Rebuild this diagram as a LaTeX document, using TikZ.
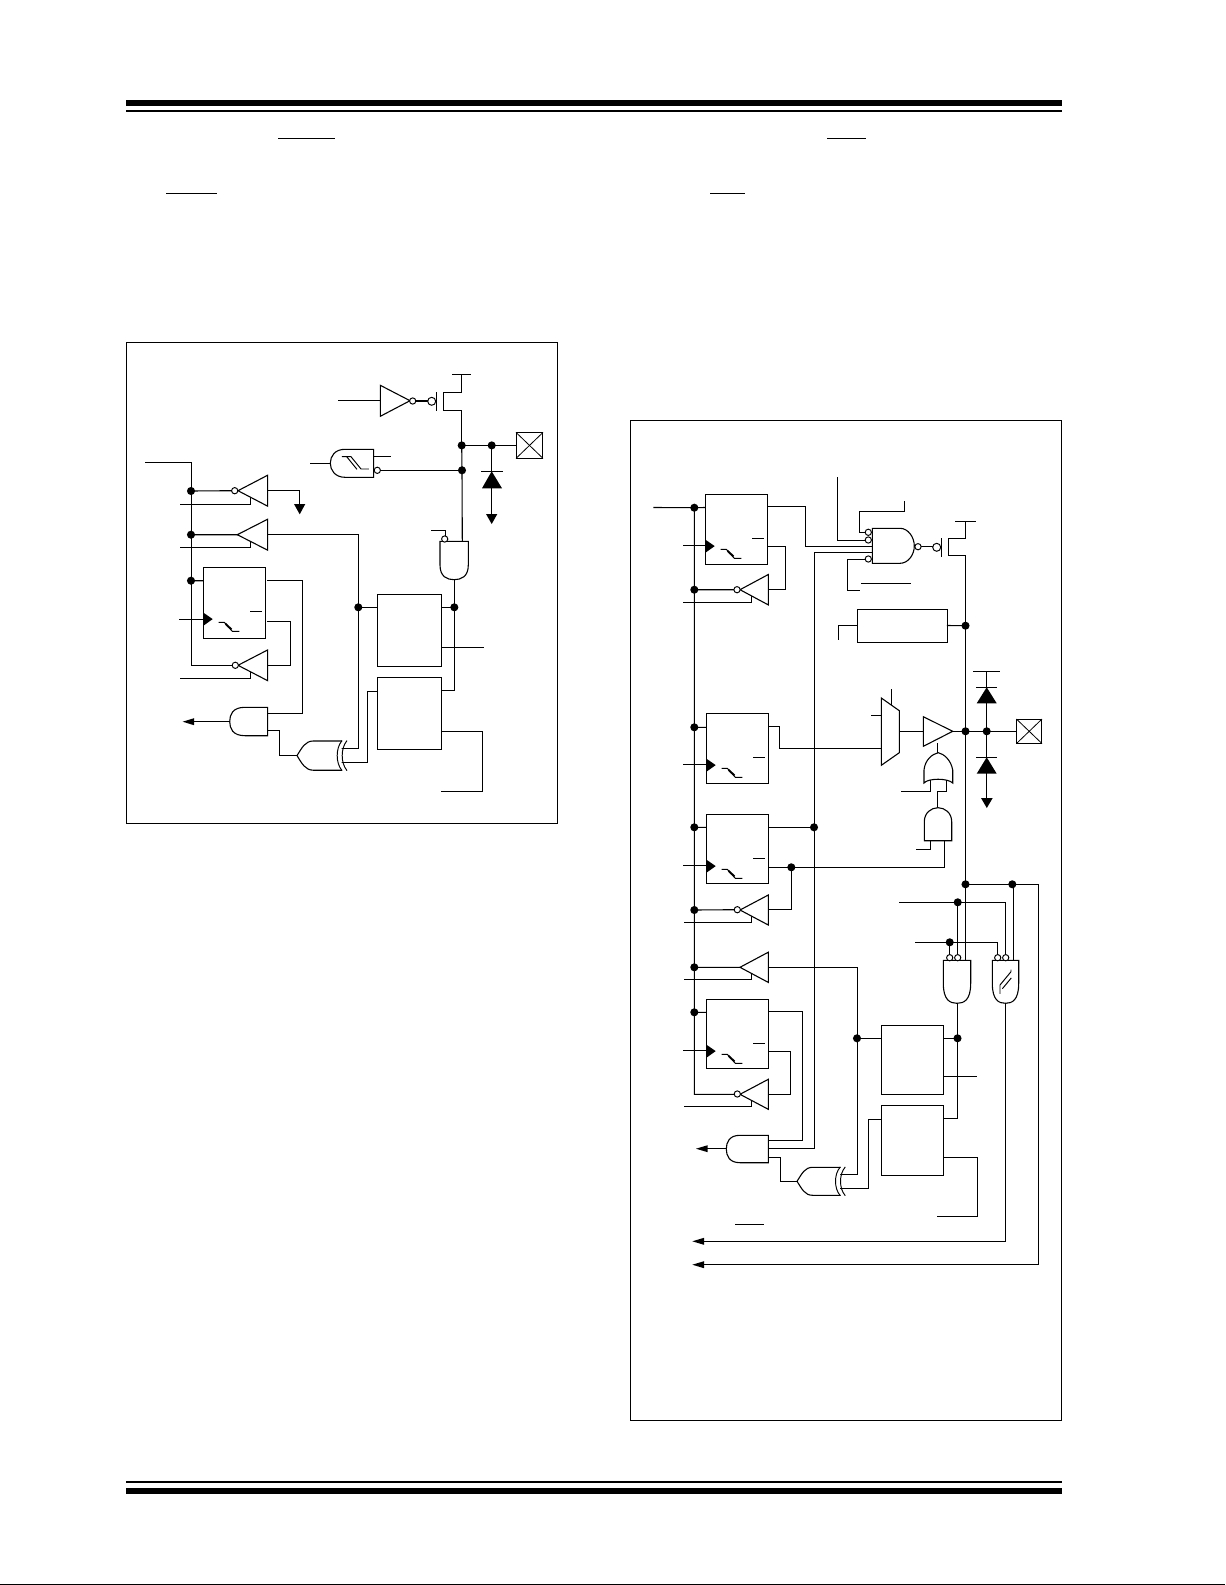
\documentclass[tikz,border=0pt]{standalone}
\usetikzlibrary{calc}
\tikzset{
  x=0.02cm,y=-0.02cm,
  wire/.style={line width=0.62pt,line cap=rect,line join=miter},
  frameline/.style={line width=0.68pt},
  gatebody/.style={line width=0.62pt,fill=white},
  dot/.style={circle,fill=black,draw=none,inner sep=0pt,outer sep=0pt,minimum size=0.162cm},
  bub/.style={circle,draw=black,fill=white,line width=0.55pt,inner sep=0pt,outer sep=0pt,minimum size=0.125cm},
  bubg/.style={circle,draw=black,fill=white,line width=0.55pt,inner sep=0pt,outer sep=0pt,minimum size=0.16cm},
  boxn/.style={rectangle,draw=black,line width=0.62pt,inner sep=0pt,outer sep=0pt,fill=white},
}
% flip-flop: #1 name, #2 top-left x, #3 top y, #4 bottom y
\newcommand{\myff}[4]{%
  \node[boxn,anchor=north west,minimum width=1.24cm,minimum height={(#4-#3)*0.02cm}] (#1) at (#2,#3) {};
  \fill (#2,#3+45.3) -- (#2+9.4,#3+51.8) -- (#2,#3+58.5) -- cycle;
  \draw[line width=0.55pt] (#2+47,#3+44.3) -- (#2+58,#3+44.3);
  \draw[line width=0.55pt] (#2+15.7,#3+55) -- (#2+21,#3+55) -- (#2+29,#3+64) -- (#2+35.7,#3+64);
  \draw[line width=1.1pt] (#2+23,#3+57.3) -- (#2+27.5,#3+61.5);
}
% tristate buffer pointing left: #1 right x, #2 tip x, #3 y centre, #4 half height
\newcommand{\mybuf}[4]{\draw[gatebody] (#1,#3-#4) -- (#2,#3) -- (#1,#3+#4) -- cycle;}
% and gate pointing left: right x, curve x, left x, top, bottom
\newcommand{\myandl}[5]{\draw[gatebody] (#2,#4) -- (#1,#4) -- (#1,#5) -- (#2,#5) .. controls ({#3+3},#5) and (#3,{#4+(#5-#4)*0.75}) .. (#3,{(#4+#5)/2}) .. controls (#3,{#4+(#5-#4)*0.25}) and ({#3+3},#4) .. (#2,#4) -- cycle;}
% and gate pointing down: left x, right x, top, curve y, bottom
\newcommand{\myandd}[5]{\draw[gatebody] (#1,#3) -- (#2,#3) -- (#2,#4) .. controls (#2,{#5-3}) and ({#1+(#2-#1)*0.75},#5) .. ({(#1+#2)/2},#5) .. controls ({#1+(#2-#1)*0.25},#5) and (#1,{#5-3}) .. (#1,#4) -- cycle;}
% xor pointing left: tip x, y mid, half height, curve-start x, back x
\newcommand{\myxor}[5]{%
  \draw[gatebody] (#5,#2-#3) -- (#4,#2-#3) .. controls ({#4-8},#2-#3) and ({#1+5},{#2-#3*0.55}) .. (#1,#2) .. controls ({#1+5},{#2+#3*0.55}) and ({#4-8},#2+#3) .. (#4,#2+#3) -- (#5,#2+#3);
  \draw[line width=0.55pt] (#5,#2-#3) .. controls ({#5-6},{#2-#3*0.5}) and ({#5-6},{#2+#3*0.5}) .. (#5,#2+#3);
  \draw[line width=0.55pt] ({#5+5},#2-#3) .. controls ({#5-1},{#2-#3*0.5}) and ({#5-1},{#2+#3*0.5}) .. ({#5+5},#2+#3);
}
\begin{document}
\begin{tikzpicture}
\useasboundingbox (0,0) rectangle (1225,1585);
\fill[white] (0,0) rectangle (1225,1585);
% ------------- page rules
\fill (126,100) rectangle (1062,106);
\fill (126,110) rectangle (1062,112);
\fill (126,1481) rectangle (1062,1483);
\fill (126,1488) rectangle (1062,1494);
\fill (0,1584) rectangle (1225,1585);
% overbars left in the text
\draw[line width=0.6pt] (278,138.4) -- (335,138.4) (166,193.4) -- (217,193.4) (827,138.4) -- (866,138.4) (710,193.4) -- (745,193.4);
% ------------- frames
\node[rectangle,draw=black,frameline,inner sep=0pt,outer sep=0pt,anchor=north west,minimum width=8.62cm,minimum height=9.62cm] (frameL) at (126.5,342.5) {};
\node[rectangle,draw=black,frameline,inner sep=0pt,outer sep=0pt,anchor=north west,minimum width=8.62cm,minimum height=20cm] (frameR) at (630.7,420.4) {};

% =================== LEFT DIAGRAM
\begin{scope}[wire]
% named junctions
\foreach \n/\x/\y in {La/461.7/445.4, Lb/491.7/445.4, Lc/462/470.3, Ld/191/491, Le/191/534.7, Lf/191/580.7, Lg/358.3/607.3, Lh/454.3/607.3}
  {\coordinate (\n) at (\x,\y);}
\node[boxn,anchor=north west,minimum width=1.29cm,minimum height=1.43cm] (LB1) at (377.3,594.7) {};
\node[boxn,anchor=north west,minimum width=1.29cm,minimum height=1.44cm] (LB2) at (377.3,677.3) {};
\node[boxn,anchor=center,minimum width=0.53cm,minimum height=0.51cm] (Lpad) at (529.5,445.4) {};
\draw[line width=0.45pt] (Lpad.north west) -- (Lpad.south east) (Lpad.north east) -- (Lpad.south west);
% supply and PMOS
\draw (452.3,374.3) -- (470.7,374.3) (461.7,374.3) -- (461.7,392.3) -- (443.3,392.3) -- (443.3,410.3) -- (461.7,410.3) -- (La);
\draw (436.3,392.3) -- (436.3,410.3);
\draw (339,400.3) -- (380.3,400.3);
\draw (La) -- (Lpad.west);
\draw (Lb) -- (491.7,514);
\draw (La) -- (Lc) -- (462.3,541.3);
% schmitt gate
\draw[gatebody] (345,449.3) -- (373.7,449.3) -- (373.7,477.3) -- (345,477.3) .. controls (335,477.3) and (330.3,470) .. (330.3,463.3) .. controls (330.3,456) and (335,449.3) .. (345,449.3) -- cycle;
\draw (311,463.3) -- (330.3,463.3) (373.7,456.3) -- (390.7,456.3);
\draw[line width=0.55pt] (342.3,456.7) -- (351,456.7) -- (361,469) -- (368.3,469) (346.7,456.7) -- (356.7,469);
\draw (380,470.3) -- (Lc);
% input rail
\draw (146,462.3) -- (191.7,462.3) -- (191.7,665.3) -- (232,665.3);
\draw (Ld) -- (231.7,490.7) (Le) -- (237.3,534.7) (Lf) -- (203.3,580.7);
\draw (181,504.4) -- (250.3,504.4) -- (250.3,496.7);
\draw (181,547.3) -- (250.3,547.3) -- (250.3,540);
\draw (181,678.3) -- (250.3,678.3) -- (250.3,671);
\draw (267.7,490.3) -- (299.3,490.3) -- (299.3,504);
% ff & gates
\myff{LFF}{203.3}{567.3}{638.7}
\draw (180,619.3) -- (203.3,619.3);
\draw (267.7,580.3) -- (302.3,580.3) -- (302.3,713.3) -- (267.7,713.3);
\draw (267.7,621.3) -- (290.7,621.3) -- (290.7,665.3) -- (267.7,665.3);
\mybuf{267.7}{238}{490.7}{15.5}
\mybuf{267.7}{237.3}{534.7}{15.5}
\mybuf{267.7}{238}{665.3}{15.4}
\draw (267.7,534.7) -- (358.3,534.7) -- (358.3,748.7) -- (341,748.7);
\draw (Lg) -- (LB1.west |- Lg);
\draw (LB1.east |- Lh) -- (Lh);
\draw (454.3,579.7) -- (454.3,690.3) -- (LB2.east |- 0,690.3);
\draw (LB1.east |- 0,647.3) -- (483.3,647.3);
\draw (443,731.3) -- (482.7,731.3) -- (482.7,791.3) -- (442,791.3);
\draw (341,762.3) -- (367.3,762.3) -- (367.3,691.3) -- (LB2.west |- 0,691.3);
\draw (229.7,721.7) -- (194,721.7);
\draw (267.7,730.3) -- (279.3,730.3) -- (279.3,755.3) -- (297,755.3);
\myandl{267.7}{245}{229.7}{707.3}{735.7}
\myxor{297}{755.6}{14.6}{313.3}{341.7}
\myandd{440}{468.3}{541.3}{565}{579.7}
\draw (432,530.7) -- (445.3,530.7) -- (445.3,535);
% inverter at top
\draw[gatebody] (380.3,385.3) -- (410,400.7) -- (380.3,416.3) -- cycle;
\draw (415.7,401) -- (427.7,401);
\end{scope}
\node[bub] (Lb1) at (412.7,401) {};
\node[bubg] (Lb2) at (431.7,401.3) {};
\node[bub] (Lb3) at (377.3,470.3) {};
\node[bub] (Lb4) at (234.7,490.7) {};
\node[bub] (Lb5) at (235.3,665.3) {};
\node[bub] (Lb6) at (444.7,539) {};
\foreach \n in {La,Lb,Lc,Ld,Le,Lf,Lg,Lh} {\node[dot] at (\n) {};}
% diode, arrows
\fill (491.7,471.3) -- (502,488.3) -- (482,488.3) -- cycle;
\draw[wire] (482,471.3) -- (502,471.3);
\fill (486,514) -- (497.3,514) -- (491.7,524) -- cycle;
\fill (294,504) -- (305.3,504) -- (299.7,514.3) -- cycle;
\fill (182.7,721.7) -- (194,718.2) -- (194,725.2) -- cycle;

% =================== RIGHT DIAGRAM
\begin{scope}[wire]
\foreach \n/\x/\y in {Ra/694.3/507.7, Rb/694.3/589.7, Rc/694.3/727.3, Rd/694.3/827.3, Re/694.3/910, Rf/694.3/967.3, Rg/694.3/1012.3, Rh/814/827.3, Ri/791.3/867.3, Rj/965.5/625.7, Rk/965.5/731.3, Rl/986.7/731.3, Rm/965.5/884.3, Rn/1012.3/884.3, Ro/957.7/902.3, Rp/949.7/942.3, Rq/857/1038.3, Rr/957.5/1038.3}
  {\coordinate (\n) at (\x,\y);}
% main rails
\draw (654,507.5) -- (Ra) -- (694.3,1094.3) -- (734,1094.3);
\draw (814.3,552.3) -- (814.3,1148.3) -- (768.3,1148.3);
\draw (965.5,555.3) -- (965.5,960.3);
\draw (Ra) -- (705.3,507.5) (Rc) -- (706.3,727.3) (Rd) -- (706.3,827.3) (Rg) -- (706.3,1012.3);
\draw (Rb) -- (734,589.7) (Re) -- (734,909.7) (Rf) -- (740,967.3);
% clocks
\foreach \yy/\xr in {545.3/705.3,764.3/706.3,865.7/706.3,1050.3/706.3} {\draw (684,\yy) -- (\xr,\yy);}
% enables
\draw (684,602.3) -- (751.7,602.3) -- (751.7,596);
\draw (685,922.3) -- (751.7,922.3) -- (751.7,916.7);
\draw (685,979.3) -- (751.7,979.3) -- (751.7,973.3);
\draw (685,1106.3) -- (751.7,1106.3) -- (751.7,1100);
% ffs
\myff{FFa}{705.3}{494.3}{564.3}
\myff{FFb}{706.3}{713.3}{783.3}
\myff{FFc}{706.3}{814.3}{883.3}
\myff{FFd}{706.3}{999.3}{1068.3}
\mybuf{768.3}{740}{589.7}{15.2}
\mybuf{768.3}{740}{910}{15}
\mybuf{768.3}{740}{967.3}{15.1}
\mybuf{768.3}{740}{1094.3}{15}
% ff a connections
\draw (768.3,506.3) -- (805.7,506.3) -- (805.7,546.7) -- (872.3,546.7);
\draw (768.3,546.3) -- (785.3,546.3) -- (785.3,589.3) -- (768.3,589.3);
\draw (814.3,552.3) -- (872.3,552.3);
% nand
\draw[gatebody] (872.3,528.3) -- (900,528.3) .. controls (908,528.3) and (914.3,537) .. (914.3,546) .. controls (914.3,555) and (908,563.3) .. (900,563.3) -- (872.3,563.3) -- cycle;
\draw (865,532.3) -- (859.3,532.3) -- (859.3,511.3) -- (904.3,511.3) -- (904.3,501.3);
\draw (865,540.3) -- (837.3,540.3) -- (837.3,477.3);
\draw (865,559.3) -- (847.3,559.3) -- (847.3,590.3) -- (859,590.3);
\draw[line width=0.6pt] (862,583.3) -- (910,583.3);
\draw (921,546.7) -- (933,546.7);
% pmos
\draw (941.7,538.3) -- (941.7,556);
\draw (956,521.3) -- (975,521.3) (965.3,521.3) -- (965.3,538.3) -- (948.7,538.3) -- (948.7,555.3) -- (965.5,555.3);
% rect
\node[boxn,anchor=north west,minimum width=1.8cm,minimum height=0.66cm] (Rrect) at (857.3,609.3) {};
\draw (838.3,639.7) -- (838.3,625.3) -- (857.3,625.3);
\draw (947.3,625.5) -- (Rj);
% ff b connections
\draw (768.3,726.3) -- (779.3,726.3) -- (779.3,748.3) -- (881.3,748.3);
% mux
\draw[gatebody] (881.3,698) -- (899.3,710.7) -- (899.3,752.7) -- (881.3,765.3) -- cycle;
\draw (891.3,689.3) -- (891.3,704.7);
\draw (872,715.3) -- (881.3,715.3);
\draw (899.3,731.3) -- (923.3,731.3);
% output buffer
\draw[gatebody] (923.3,716.7) -- (952.7,731.3) -- (923.3,746.3) -- cycle;
\node[boxn,anchor=center,minimum width=0.5cm,minimum height=0.48cm] (Rpad) at (1029.2,731.3) {};
\draw[line width=0.45pt] (Rpad.north west) -- (Rpad.south east) (Rpad.north east) -- (Rpad.south west);
\draw (952.7,731.3) -- (Rpad.west);
% diodes
\draw (974,671.3) -- (999,671.3);
\draw (986.7,671.3) -- (986.7,798);
\draw (976.7,687.3) -- (996.7,687.3) (976.7,757.3) -- (996.7,757.3);
% or + and
\draw (937.3,744) -- (937.3,752.7);
\draw[gatebody] (924,783) .. controls (928,778) and (948,778) .. (952.7,783) -- (952.7,770) .. controls (951,760) and (944,754) .. (938.3,752.7) .. controls (932,754) and (925,760) .. (924,770) -- cycle;
\draw (930.7,780.7) -- (930.7,791.3) -- (902,791.3);
\draw (946.7,781) -- (946.7,791.3) -- (937.3,791.3) -- (937.3,807.7);
\draw[gatebody] (924.3,840.7) -- (951.7,840.7) -- (951.7,821.7) .. controls (951.7,813) and (945,807.7) .. (938,807.7) .. controls (931,807.7) and (924.3,813) .. (924.3,821.7) -- cycle;
\draw (930.7,840.7) -- (930.7,849.4) -- (917,849.4);
\draw (944.3,840.7) -- (944.3,867.3) -- (768.3,867.3);
% ff c
\draw (768.3,827.3) -- (Rh);
\draw (Ri) -- (791.3,909.3) -- (768.3,909.3);
% buffer 4 output
\draw (768.3,967.3) -- (857.3,967.3) -- (857.3,1174.3) -- (840.7,1174.3);
\draw (Rq) -- (881.3,1038.3);
% ff d
\draw (768.3,1011.3) -- (802.3,1011.3) -- (802.3,1140.3) -- (768.3,1140.3);
\draw (768.3,1051.3) -- (790.7,1051.3) -- (790.7,1094.3) -- (768.3,1094.3);
% output and
\draw (726.3,1148.7) -- (707.7,1148.7);
\draw (768.3,1157.3) -- (780.3,1157.3) -- (780.3,1181.3) -- (797,1181.3);
\myandl{768.3}{740}{726.3}{1135.3}{1162.7}
\myxor{797}{1181.3}{14}{812.7}{840}
\draw (840.7,1188.3) -- (868.7,1188.3) -- (868.7,1119.3) -- (881.3,1119.3);
% boxes
\node[boxn,anchor=north west,minimum width=1.24cm,minimum height=1.38cm] (RB1) at (881.3,1025.3) {};
\node[boxn,anchor=north west,minimum width=1.24cm,minimum height=1.4cm] (RB2) at (881.3,1105.3) {};
\draw (943.3,1038.3) -- (Rr);
\draw (957.5,1003.3) -- (957.5,1118.7) -- (943.3,1118.7);
\draw (943.3,1076.3) -- (976.7,1076.3);
\draw (943.3,1157.3) -- (977.7,1157.3) -- (977.7,1216.3) -- (938,1216.3);
% upper right nets
\draw (Rm) -- (1038.7,884.3) -- (1038.7,1264.7) -- (704,1264.7);
\draw (Rn) -- (1013.3,884.3) -- (1013.3,960.3);
\draw (900,902.3) -- (1005.7,902.3) -- (1005.7,955);
\draw (Ro) -- (957.7,955);
\draw (916,942.3) -- (997.7,942.3) -- (997.7,955);
\draw (Rp) -- (949.7,955);
% output gates
\myandd{943.3}{970.7}{960.3}{983.3}{1003.3}
\myandd{992.3}{1018.7}{960.3}{983.3}{1003.3}
\draw[line width=0.55pt] (1000,993.3) -- (1000,985) -- (1011,971.7) -- (1011,970) (1002.7,988.3) -- (1011,978.3);
\draw (1005.7,1003.3) -- (1005.7,1241.3) -- (704,1241.3);
\draw[line width=0.6pt] (736,1224.3) -- (763,1224.3);
\end{scope}
% bubbles
\foreach \n/\x/\y in {Rb1/737/589.7, Rb2/737.3/909.7, Rb3/737.3/1094, Rb4/868.3/532.3, Rb5/868.3/540, Rb6/868.3/559, Rb7/918/546.7, Rb8/949.7/957.7, Rb9/957.7/957.7, Rb10/997.7/957.7, Rb11/1005.7/957.7}
  {\node[bub] (\n) at (\x,\y) {};}
\node[bubg] (Rb12) at (936.7,547.3) {};
\foreach \n in {Ra,Rb,Rc,Rd,Re,Rf,Rg,Rh,Ri,Rj,Rk,Rl,Rm,Rn,Ro,Rp,Rq,Rr} {\node[dot] at (\n) {};}
% diodes & arrows
\fill (986.7,687.3) -- (996.7,703.3) -- (976.7,703.3) -- cycle;
\fill (986.7,757.3) -- (996.7,773.7) -- (976.7,773.7) -- cycle;
\fill (981,798) -- (992.7,798) -- (986.8,808) -- cycle;
\fill (696,1148.7) -- (707.7,1145.2) -- (707.7,1152.2) -- cycle;
\fill (692.3,1241.3) -- (704,1237.8) -- (704,1244.8) -- cycle;
\fill (692.3,1264.7) -- (704,1261.2) -- (704,1268.2) -- cycle;
\end{tikzpicture}
\end{document}
